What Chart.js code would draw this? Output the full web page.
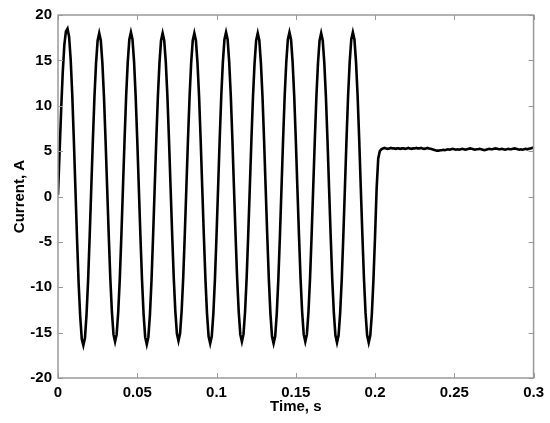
<!DOCTYPE html>
<html>
<head>
<meta charset="utf-8">
<script src="https://cdn.jsdelivr.net/npm/chart.js@4.4.0/dist/chart.umd.min.js"></script>
<style>
  html, body { margin: 0; padding: 0; background: #fff; }
  canvas { display: block; }
</style>
</head>
<body>
<canvas id="currentChart" width="550" height="423"></canvas>
<script>
// current samples, 1 ms apart, starting at t = 0
const sampleStep = 0.001;

// 10 cycles of the 50 Hz current before the step (0 .. 0.199 s)
const cycleCurrent = [
    0.2, 4.9, 9.6, 13.7, 16.7, 18.2, 18.5, 17.6, 15.1, 11.2, 6.2, 0.8, -4.6, -9.5, -13.2, -15.7, -16.4, -15.6, -13.0, -9.2,
    -4.3, 1.0, 6.2, 11.0, 14.7, 17.2, 18.0, 17.2, 14.7, 11.0, 6.2, 1.0, -4.2, -9.0, -12.7, -15.2, -16.0, -15.2, -12.7, -9.0,
    -4.2, 1.1, 6.3, 11.1, 14.8, 17.3, 18.1, 17.3, 14.8, 11.0, 6.2, 0.9, -4.4, -9.2, -13.0, -15.5, -16.3, -15.5, -13.0, -9.2,
    -4.3, 1.0, 6.2, 11.0, 14.7, 17.2, 18.0, 17.2, 14.8, 11.1, 6.3, 1.1, -4.1, -8.9, -12.6, -15.1, -15.9, -15.1, -12.6, -8.9,
    -4.1, 1.1, 6.3, 11.0, 14.7, 17.2, 18.0, 17.2, 14.7, 11.0, 6.2, 0.9, -4.3, -9.1, -12.9, -15.4, -16.2, -15.4, -12.9, -9.1,
    -4.3, 1.0, 6.3, 11.1, 14.8, 17.3, 18.1, 17.3, 14.8, 11.1, 6.3, 1.0, -4.2, -9.0, -12.7, -15.2, -16.0, -15.2, -12.7, -9.0,
    -4.2, 1.0, 6.2, 11.0, 14.7, 17.2, 18.0, 17.2, 14.7, 11.0, 6.2, 0.9, -4.3, -9.1, -12.9, -15.4, -16.2, -15.4, -12.9, -9.1,
    -4.3, 1.0, 6.3, 11.1, 14.8, 17.3, 18.1, 17.3, 14.8, 11.1, 6.3, 1.0, -4.2, -9.0, -12.7, -15.2, -16.0, -15.2, -12.7, -9.0,
    -4.2, 1.0, 6.2, 11.0, 14.7, 17.2, 18.0, 17.2, 14.7, 11.0, 6.2, 0.9, -4.3, -9.1, -12.8, -15.3, -16.1, -15.3, -12.8, -9.1,
    -4.3, 1.0, 6.3, 11.1, 14.8, 17.3, 18.1, 17.3, 14.8, 11.1, 6.3, 1.0, -4.2, -9.0, -12.8, -15.3, -16.1, -15.3, -12.9, -9.1
];

// transition to the DC level (0.200 .. 0.204 s)
const stepCurrent = [-4.4, 0.9, 4.2, 5.0, 5.2];

// settled current (0.205 .. 0.300 s)
const settledCurrent = [
    5.3, 5.35, 5.3, 5.25, 5.3, 5.35, 5.3, 5.3, 5.25, 5.3,
    5.3, 5.25, 5.3, 5.3, 5.25, 5.3, 5.35, 5.3, 5.25, 5.3,
    5.3, 5.35, 5.3, 5.3, 5.35, 5.3, 5.25, 5.3, 5.35, 5.3,
    5.25, 5.2, 5.15, 5.1, 5.05, 5.05, 5.1, 5.1, 5.15, 5.1,
    5.15, 5.2, 5.15, 5.2, 5.25, 5.2, 5.15, 5.2, 5.15, 5.2,
    5.25, 5.2, 5.15, 5.2, 5.25, 5.3, 5.25, 5.2, 5.15, 5.2,
    5.2, 5.25, 5.2, 5.15, 5.1, 5.15, 5.2, 5.25, 5.2, 5.2,
    5.25, 5.3, 5.25, 5.2, 5.2, 5.25, 5.2, 5.15, 5.2, 5.25,
    5.2, 5.2, 5.25, 5.3, 5.25, 5.2, 5.15, 5.2, 5.15, 5.2,
    5.25, 5.2, 5.25, 5.3, 5.35, 5.4
];

const xTicks = [0, 0.05, 0.1, 0.15, 0.2, 0.25, 0.3];
const yTicks = [-20, -15, -10, -5, 0, 5, 10, 15, 20];

const current = cycleCurrent.concat(stepCurrent, settledCurrent);
const points = current.map((v, i) => ({ x: i * sampleStep, y: v }));

const axisGrey = '#9a9a9a';
const fontFamily = '"Liberation Sans", Arial, sans-serif';

// matlab style box with inward ticks on all four sides
const boxPlugin = {
    id: 'box',
    afterDraw(chart) {
        const { ctx, chartArea: a, scales } = chart;
        const len = 5;
        ctx.save();
        ctx.strokeStyle = axisGrey;
        ctx.lineWidth = 1.5;
        ctx.strokeRect(a.left, a.top, a.right - a.left, a.bottom - a.top);
        ctx.lineWidth = 1;
        ctx.beginPath();
        xTicks.forEach(t => {
            const px = Math.round(scales.x.getPixelForValue(t)) + 0.5;
            ctx.moveTo(px, a.bottom); ctx.lineTo(px, a.bottom - len);
            ctx.moveTo(px, a.top); ctx.lineTo(px, a.top + len);
        });
        yTicks.forEach(t => {
            const py = Math.round(scales.y.getPixelForValue(t)) + 0.5;
            ctx.moveTo(a.left, py); ctx.lineTo(a.left + len, py);
            ctx.moveTo(a.right, py); ctx.lineTo(a.right - len, py);
        });
        ctx.stroke();
        ctx.restore();
    }
};

const config = {
    type: 'line',
    data: {
        datasets: [{
            label: 'Current',
            data: points,
            borderColor: '#000',
            borderWidth: 2.6,
            pointRadius: 0,
            tension: 0,
            fill: false
        }]
    },
    options: {
        responsive: false,
        animation: false,
        layout: { padding: { top: 11, right: 16, left: 0, bottom: 0 } },
        plugins: {
            legend: { display: false },
            tooltip: { enabled: false }
        },
        scales: {
            x: {
                type: 'linear',
                min: 0,
                max: 0.3,
                afterFit(scale) { scale.height = 45; },
                afterBuildTicks(scale) { scale.ticks = xTicks.map(v => ({ value: v })); },
                grid: { display: false, drawTicks: false },
                border: { display: false },
                ticks: {
                    color: '#000',
                    padding: 6,
                    maxRotation: 0,
                    font: { family: fontFamily, size: 15, weight: 'bold' },
                    callback: v => String(Number(v.toFixed(2)))
                },
                title: {
                    display: true,
                    text: 'Time, s',
                    color: '#000',
                    padding: { top: 0, bottom: 7 },
                    font: { family: fontFamily, size: 15, weight: 'bold' }
                }
            },
            y: {
                min: -20,
                max: 20,
                afterFit(scale) { scale.width = 58; },
                afterBuildTicks(scale) { scale.ticks = yTicks.map(v => ({ value: v })); },
                grid: { display: false, drawTicks: false },
                border: { display: false },
                ticks: {
                    color: '#000',
                    padding: 6,
                    font: { family: fontFamily, size: 15, weight: 'bold' }
                },
                title: {
                    display: true,
                    text: 'Current, A',
                    color: '#000',
                    padding: { top: 11, bottom: 0 },
                    font: { family: fontFamily, size: 15, weight: 'bold' }
                }
            }
        }
    },
    plugins: [boxPlugin]
};

const canvasElement = document.getElementById('currentChart');
const currentChart = new Chart(canvasElement, config);
</script>
</body>
</html>
